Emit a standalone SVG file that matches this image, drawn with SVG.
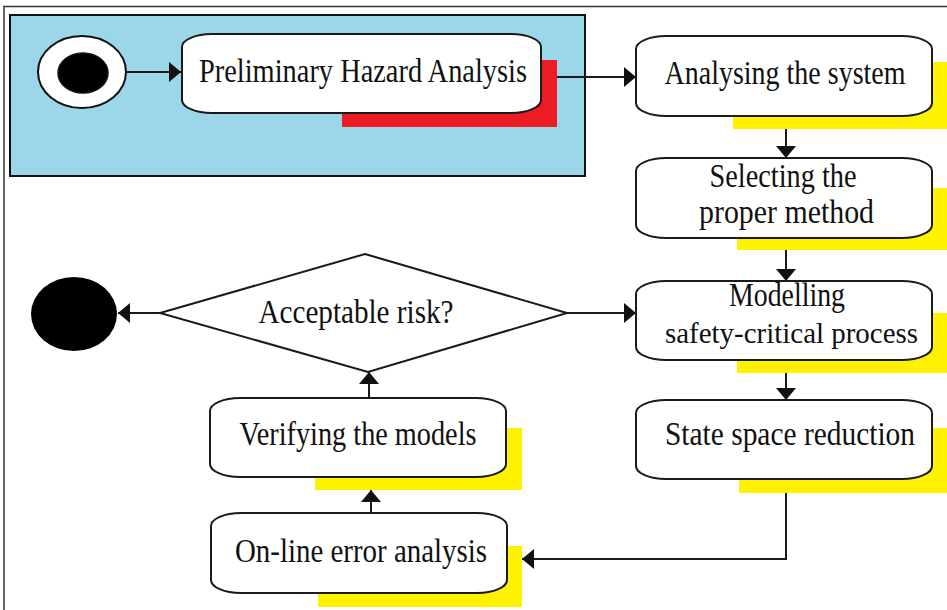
<svg xmlns="http://www.w3.org/2000/svg" width="947" height="610" viewBox="0 0 947 610">
<style>
  .box { fill: #ffffff; stroke: #1a1a1a; stroke-width: 2; }
  .red { fill: #ED1C24; }
  .yel { fill: #FFF200; }
  .lbl { font-family: "Liberation Serif", "Times New Roman", serif; font-size: 33px; fill: #111; text-anchor: middle; }
  .sm { font-size: 30px; }
  .con { fill: none; stroke: #1a1a1a; stroke-width: 2; marker-end: url(#ah); }
</style>
<defs>
  <marker id="ah" markerUnits="userSpaceOnUse" markerWidth="13" markerHeight="22" refX="12" refY="10" orient="auto">
    <path d="M0,0 L12,10 L0,20 Z" fill="#111"/>
  </marker>
</defs>
<rect x="0" y="0" width="947" height="610" fill="#ffffff"/>
<path d="M4,610 V6.5 H947" fill="none" stroke="#333" stroke-width="1.5"/>
<g id="pha-region">
  <rect x="10" y="15" width="575" height="161" fill="#9BD7E8" stroke="#111" stroke-width="2"/>
</g>
<g id="connectors">
  <path class="con" d="M126,72 H181"/>
  <path class="con" d="M556,77 H636"/>
  <path class="con" d="M786,129 V158"/>
  <path class="con" d="M786,250 V281"/>
  <path class="con" d="M786,373 V400"/>
  <path class="con" d="M786,493 V559 H522"/>
  <path class="con" d="M371,513 V490"/>
  <path class="con" d="M369,398 V372"/>
  <path class="con" d="M567,313 H636"/>
  <path class="con" d="M160,313 H118"/>
</g>
<g id="start">
  <ellipse cx="82" cy="72" rx="44" ry="36" fill="#fff" stroke="#111" stroke-width="2"/>
  <ellipse cx="83" cy="73" rx="25" ry="20" fill="#000" stroke="#111" stroke-width="1.5"/>
</g>
<g id="pha">
  <rect class="red" x="342" y="60" width="215" height="67"/>
  <rect class="box" x="182" y="34" width="359" height="79" rx="30" ry="13"/>
  <text class="lbl" x="363" y="81.5" textLength="328" lengthAdjust="spacingAndGlyphs">Preliminary Hazard Analysis</text>
</g>
<g id="analysing">
  <rect class="yel" x="733" y="62" width="214" height="67"/>
  <rect class="box" x="636" y="36" width="296" height="80" rx="30" ry="13"/>
  <text class="lbl" x="785" y="84" textLength="241" lengthAdjust="spacingAndGlyphs">Analysing the system</text>
</g>
<g id="selecting">
  <rect class="yel" x="737" y="188" width="210" height="62"/>
  <rect class="box" x="636" y="158" width="296" height="80" rx="30" ry="13"/>
  <text class="lbl" x="783" y="186.5" textLength="147" lengthAdjust="spacingAndGlyphs">Selecting the</text>
  <text class="lbl" x="786.5" y="222.5" textLength="175" lengthAdjust="spacingAndGlyphs">proper method</text>
</g>
<g id="modelling">
  <rect class="yel" x="737" y="313" width="210" height="60"/>
  <rect class="box" x="636" y="281" width="296" height="79" rx="30" ry="13"/>
  <text class="lbl" x="787" y="305.5" textLength="116" lengthAdjust="spacingAndGlyphs">Modelling</text>
  <text class="lbl sm" x="791.5" y="343" textLength="253" lengthAdjust="spacingAndGlyphs">safety-critical process</text>
</g>
<g id="state">
  <rect class="yel" x="739" y="428" width="208" height="65"/>
  <rect class="box" x="636" y="400" width="296" height="79" rx="30" ry="13"/>
  <text class="lbl" x="790" y="445" textLength="250" lengthAdjust="spacingAndGlyphs">State space reduction</text>
</g>
<g id="decision">
  <polygon points="365,254 567,313 368,372 160,313" fill="#fff" stroke="#1a1a1a" stroke-width="2"/>
  <text class="lbl" x="356" y="322.5" textLength="195" lengthAdjust="spacingAndGlyphs">Acceptable risk?</text>
</g>
<g id="end">
  <ellipse cx="74" cy="314" rx="43" ry="37" fill="#000"/>
</g>
<g id="verify">
  <rect class="yel" x="315" y="428" width="207" height="62"/>
  <rect class="box" x="210" y="398" width="296" height="79" rx="30" ry="13"/>
  <text class="lbl" x="358" y="445" textLength="237" lengthAdjust="spacingAndGlyphs">Verifying the models</text>
</g>
<g id="online">
  <rect class="yel" x="318" y="546" width="204" height="61"/>
  <rect class="box" x="211" y="513" width="296" height="80" rx="30" ry="13"/>
  <text class="lbl" x="361" y="561.5" textLength="252" lengthAdjust="spacingAndGlyphs">On-line error analysis</text>
</g>
</svg>
